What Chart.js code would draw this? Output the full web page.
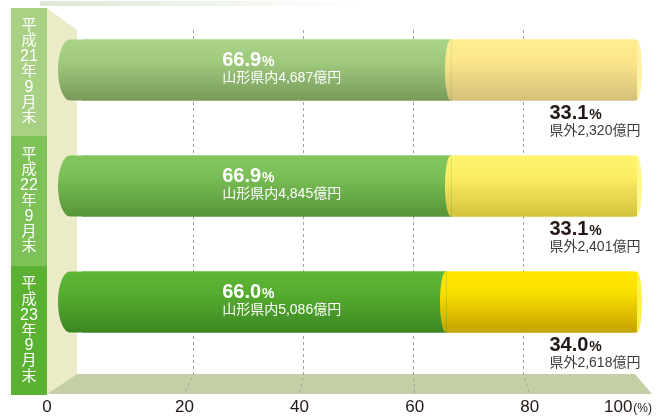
<!DOCTYPE html>
<html lang="ja">
<head>
<meta charset="utf-8">
<title>県内・県外比率</title>
<script src="https://cdn.jsdelivr.net/npm/chart.js@4.4.1/dist/chart.umd.min.js"></script>
<style>
  html, body { margin: 0; padding: 0; background: #fff; }
  #wrap { width: 657px; height: 417px; position: relative; }
</style>
</head>
<body>
<div id="wrap"><canvas id="chart"></canvas></div>
<script>
// ---- data ----
const periods = ['平成21年9月末', '平成22年9月末', '平成23年9月末'];
const insideShare = [66.9, 66.9, 66.0];            // 山形県内 (%)
const outsideShare = [33.1, 33.1, 34.0];           // 県外 (%)
const insideAmount = ['4,687', '4,845', '5,086'];  // 億円
const outsideAmount = ['2,320', '2,401', '2,618']; // 億円
const xTicks = [0, 20, 40, 60, 80, 100];

// ---- palette ----
const panelColors = ['#a9d183', '#7dc157', '#5bb132'];
const greenShades = [
  ['#a9d487', '#a0cb7e', '#789a5a'],
  ['#84c760', '#79be56', '#579538'],
  ['#5fb737', '#56ad2f', '#3c8622']
];
const yellowShades = [
  ['#ffed92', '#fbe688', '#d3c07a'],
  ['#fff470', '#fbee62', '#d2c33c'],
  ['#ffe800', '#fadf00', '#c3a300']
];
const faceColors = ['#fff2a8', '#fff88e', '#fff04a'];

const BAR_H = 61;
const NUM_FONT = '"Liberation Sans", Arial, sans-serif';
const JP_FONT = '"Liberation Sans", "Noto Sans CJK JP", sans-serif';

function vGrad(c, cy, h, s) {
  const g = c.createLinearGradient(0, cy - h / 2, 0, cy + h / 2);
  g.addColorStop(0, s[0]);
  g.addColorStop(0.35, s[1]);
  g.addColorStop(1, s[2]);
  return g;
}

function barFill(shades) {
  return (ctx) => {
    const chart = ctx.chart;
    const ys = chart.scales.y;
    if (ctx.type !== 'data' || !ys || !chart.chartArea) return shades[0][1];
    return vGrad(chart.ctx, ys.getPixelForValue(ctx.dataIndex), BAR_H, shades[ctx.dataIndex]);
  };
}

// floor perspective for the dashed lines
const frontX = px => 389 + (px - 389) * 1.046;

function drawPct(c, x, baseline, value, color) {
  c.fillStyle = color;
  c.textAlign = 'left';
  c.textBaseline = 'alphabetic';
  c.font = 'bold 20px ' + NUM_FONT;
  const num = value.toFixed(1);
  c.fillText(num, x, baseline);
  const w = c.measureText(num).width;
  c.font = 'bold 14px ' + NUM_FONT;
  c.fillText('%', x + w + 1, baseline);
}

const decor = {
  id: 'decor',
  beforeDatasetsDraw(chart) {
    const c = chart.ctx, xs = chart.scales.x;
    c.save();

    // faint shadow at the top
    const sh = c.createLinearGradient(40, 0, 360, 0);
    sh.addColorStop(0, 'rgba(205,222,195,0.7)');
    sh.addColorStop(1, 'rgba(205,222,195,0)');
    c.fillStyle = sh;
    c.fillRect(40, 1, 320, 5);

    // side wall
    c.fillStyle = '#ecebc7';
    c.beginPath();
    c.moveTo(47, 8); c.lineTo(77, 30); c.lineTo(77, 374); c.lineTo(47, 394);
    c.closePath(); c.fill();

    // floor
    c.fillStyle = '#c5cfa6';
    c.beginPath();
    c.moveTo(77, 374); c.lineTo(635, 374); c.lineTo(652, 394); c.lineTo(47, 394);
    c.closePath(); c.fill();

    // dashed grid lines
    c.strokeStyle = '#a3a3a3';
    c.lineWidth = 1;
    c.setLineDash([3, 3]);
    xTicks.slice(1, -1).forEach(v => {
      const px = Math.round(xs.getPixelForValue(v)) + 0.5;
      c.beginPath();
      c.moveTo(px, 30); c.lineTo(px, 374); c.lineTo(frontX(px), 394);
      c.stroke();
    });
    c.setLineDash([]);

    // category panel with vertical text
    const segs = [8, 136, 266, 395];
    periods.forEach((p, i) => {
      c.fillStyle = panelColors[i];
      c.fillRect(11, segs[i], 36, segs[i + 1] - segs[i]);
      const rows = p.match(/\d+|./g);
      const pitch = 15.4;
      const mid = (segs[i] + segs[i + 1]) / 2;
      c.fillStyle = '#fff';
      c.font = '15px ' + JP_FONT;
      c.textAlign = 'center';
      c.textBaseline = 'middle';
      rows.forEach((r, k) => {
        c.font = (/\d/.test(r) ? '16px ' : '15px ') + JP_FONT;
        c.fillText(r, 29, mid + (k - (rows.length - 1) / 2) * pitch);
      });
    });
    c.restore();
  },
  afterDatasetsDraw(chart) {
    const c = chart.ctx, xs = chart.scales.x;
    const g = chart.getDatasetMeta(0).data;
    const y = chart.getDatasetMeta(1).data;
    c.save();
    periods.forEach((p, i) => {
      const gb = g[i], yb = y[i];
      const h = gb.height, cy = gb.y, top = cy - h / 2, bot = cy + h / 2;

      // rounded left end of the cylinder
      c.fillStyle = vGrad(c, cy, h, greenShades[i]);
      c.beginPath();
      c.moveTo(gb.base + 1, top);
      c.lineTo(gb.base - 13, top);
      c.ellipse(gb.base - 13, cy, 12, h / 2, 0, -Math.PI / 2, Math.PI / 2, true);
      c.lineTo(gb.base + 1, bot);
      c.closePath(); c.fill();

      // yellow part bulges over the green
      c.fillStyle = vGrad(c, cy, h, yellowShades[i]);
      c.beginPath();
      c.ellipse(yb.base, cy, 6, h / 2, 0, Math.PI / 2, Math.PI * 1.5);
      c.closePath(); c.fill();

      // right end face
      c.fillRect(yb.x - 1, top, 5, h);
      c.fillStyle = faceColors[i];
      c.beginPath();
      c.ellipse(yb.x + 4, cy, 5, h / 2, 0, -Math.PI / 2, Math.PI / 2);
      c.closePath(); c.fill();

      // inside labels
      const lx = xs.getPixelForValue(25.3);
      drawPct(c, lx, cy - 4, insideShare[i], '#fff');
      c.font = '14px ' + JP_FONT;
      c.textBaseline = 'middle';
      c.fillText('山形県内' + insideAmount[i] + '億円', lx, cy + 8);

      // outside labels
      const rx = xs.getPixelForValue(84.8);
      drawPct(c, rx, bot + 18, outsideShare[i], '#231815');
      c.font = '14px ' + JP_FONT;
      c.fillStyle = '#3e3a39';
      c.textBaseline = 'middle';
      c.fillText('県外' + outsideAmount[i] + '億円', rx, bot + 31);
    });

    // axis labels on the floor edge
    c.fillStyle = '#231815';
    c.textBaseline = 'alphabetic';
    c.font = '17px ' + NUM_FONT;
    xTicks.forEach((v, k) => {
      const px = xs.getPixelForValue(v) + 0.5;
      if (k === 0) {
        c.textAlign = 'center';
        c.fillText(String(v), 47, 412);
      } else if (k === xTicks.length - 1) {
        c.font = '12px ' + NUM_FONT;
        const pw = c.measureText('(%)').width;
        c.textAlign = 'right';
        c.fillText('(%)', 652, 412);
        c.font = '17px ' + NUM_FONT;
        c.fillText(String(v), 652 - pw - 1, 412);
      } else {
        c.textAlign = 'center';
        c.fillText(String(v), frontX(px), 412);
      }
    });
    c.restore();
  }
};

new Chart(document.getElementById('chart'), {
  type: 'bar',
  data: {
    labels: periods,
    datasets: [
      { label: '山形県内', data: insideShare, backgroundColor: barFill(greenShades), borderWidth: 0, barThickness: BAR_H },
      { label: '県外', data: outsideShare, backgroundColor: barFill(yellowShades), borderWidth: 0, barThickness: BAR_H }
    ]
  },
  options: {
    indexAxis: 'y',
    responsive: true,
    maintainAspectRatio: false,
    animation: false,
    layout: { padding: { left: 83, right: 24, top: 12, bottom: 57 } },
    plugins: { legend: { display: false }, tooltip: { enabled: false } },
    scales: {
      x: { stacked: true, min: 0, max: 100, display: false },
      y: { stacked: true, display: false }
    }
  },
  plugins: [decor]
});
</script>
</body>
</html>
